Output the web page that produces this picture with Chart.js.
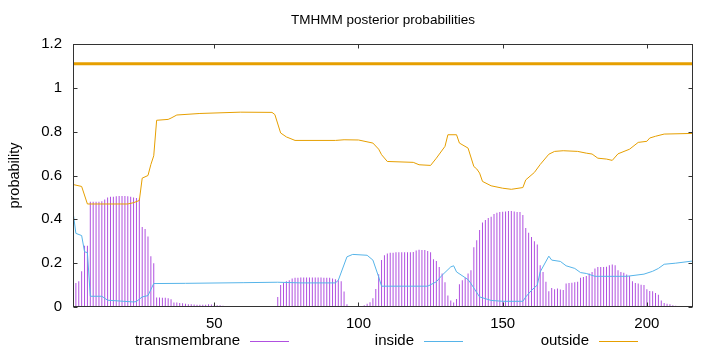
<!DOCTYPE html>
<html>
<head>
<meta charset="utf-8">
<script src="https://cdn.jsdelivr.net/npm/chart.js@4.4.1/dist/chart.umd.min.js"></script>
<style>
  html, body { margin: 0; padding: 0; background: #fff; }
</style>
</head>
<body>
<canvas id="tmhmm-chart" width="720" height="352"></canvas>
<script>
// TMHMM posterior probabilities, one value per residue (1..216)
const seqLength = 216
const residues = Array.from({length: seqLength}, (_, i) => i + 1)

const tmProb = [
  0.006, 0.11, 0.118, 0.163, 0.28, 0.28, 0.48, 0.48, 0.48, 0.48,
  0.483, 0.49, 0.50, 0.503, 0.503, 0.505, 0.507, 0.507, 0.507, 0.505,
  0.503, 0.50, 0.497, 0.495, 0.365, 0.356, 0.322, 0.232, 0.20, 0.043,
  0.043, 0.042, 0.042, 0.04, 0.035, 0.02, 0.02, 0.018, 0.017, 0.015,
  0.013, 0.012, 0.011, 0.01, 0.01, 0.01, 0.01, 0.012, 0.011, 0.01,
  0.008, 0.008, 0.006, 0.005, 0.005, 0.004, 0.004, 0.003, 0.003, 0.003,
  0.002, 0.002, 0.002, 0.002, 0.002, 0.002, 0.002, 0.002, 0.002, 0.003,
  0.005, 0.046, 0.10, 0.11, 0.118, 0.122, 0.13, 0.133, 0.134, 0.135,
  0.135, 0.135, 0.135, 0.135, 0.135, 0.135, 0.135, 0.134, 0.134, 0.133,
  0.13, 0.127, 0.122, 0.118, 0.071, 0.013, 0.002, 0.001, 0.002, 0.01,
  0.004, 0.008, 0.015, 0.022, 0.04, 0.082, 0.15, 0.215, 0.236, 0.244,
  0.247, 0.247, 0.25, 0.25, 0.25, 0.25, 0.25, 0.25, 0.251, 0.258,
  0.261, 0.26, 0.26, 0.256, 0.25, 0.218, 0.21, 0.183, 0.153, 0.113,
  0.052, 0.03, 0.021, 0.037, 0.104, 0.122, 0.134, 0.153, 0.168, 0.273,
  0.304, 0.351, 0.386, 0.397, 0.406, 0.412, 0.424, 0.43, 0.434, 0.435,
  0.436, 0.438, 0.438, 0.436, 0.434, 0.433, 0.42, 0.36, 0.339, 0.319,
  0.30, 0.285, 0.19, 0.16, 0.115, 0.072, 0.087, 0.081, 0.084, 0.08,
  0.078, 0.107, 0.11, 0.111, 0.113, 0.115, 0.134, 0.137, 0.142, 0.153,
  0.16, 0.176, 0.183, 0.183, 0.183, 0.184, 0.19, 0.194, 0.19, 0.168,
  0.16, 0.156, 0.148, 0.142, 0.118, 0.11, 0.107, 0.102, 0.10, 0.081,
  0.073, 0.072, 0.064, 0.056, 0.03, 0.018, 0.015, 0.012, 0.008, 0.006,
  0.004, 0.003, 0.002, 0.002, 0.001, 0.001
]

const insidePos = [1, 2, 4, 5, 6, 7, 11, 13, 22, 23, 25, 27, 29, 40, 60, 72, 80, 92, 93, 96, 98, 103, 105, 107, 108, 124, 127, 129, 132, 133, 134, 138, 139, 142, 146, 150, 157, 158, 160, 162, 163, 166, 167, 170, 172, 175, 177, 179, 182, 193, 199, 202, 204, 206, 210, 216]
const insideVal = [0.435, 0.336, 0.326, 0.252, 0.248, 0.049, 0.049, 0.031, 0.023, 0.025, 0.046, 0.052, 0.107, 0.108, 0.111, 0.113, 0.11, 0.11, 0.122, 0.229, 0.24, 0.236, 0.214, 0.137, 0.095, 0.095, 0.115, 0.145, 0.183, 0.188, 0.16, 0.125, 0.107, 0.046, 0.03, 0.026, 0.026, 0.046, 0.076, 0.1, 0.16, 0.232, 0.214, 0.208, 0.188, 0.176, 0.157, 0.153, 0.14, 0.14, 0.15, 0.163, 0.176, 0.195, 0.2, 0.21]

const outsidePos = [1, 4, 6, 20, 22, 24, 25, 27, 28, 29, 30, 34, 35, 37, 45, 59, 70, 71, 73, 75, 78, 92, 95, 100, 105, 107, 108, 110, 119, 121, 125, 127, 130, 131, 134, 135, 138, 140, 141, 142, 143, 146, 150, 153, 157, 158, 161, 163, 166, 168, 171, 176, 179, 181, 183, 186, 188, 190, 194, 197, 200, 201, 203, 206, 216]
const outsideVal = [0.559, 0.55, 0.47, 0.47, 0.476, 0.486, 0.588, 0.6, 0.65, 0.69, 0.852, 0.856, 0.862, 0.876, 0.883, 0.889, 0.888, 0.878, 0.794, 0.776, 0.76, 0.76, 0.763, 0.762, 0.748, 0.72, 0.695, 0.664, 0.66, 0.649, 0.646, 0.679, 0.733, 0.786, 0.786, 0.748, 0.725, 0.641, 0.63, 0.611, 0.573, 0.553, 0.542, 0.537, 0.545, 0.58, 0.614, 0.65, 0.697, 0.71, 0.713, 0.71, 0.702, 0.698, 0.679, 0.675, 0.669, 0.699, 0.72, 0.751, 0.756, 0.771, 0.779, 0.789, 0.792]

// predicted topology drawn on top of the plot
const topoFrom = [1]
const topoTo = [216]
const topoLevel = 1.11

const xTicks = [50, 100, 150, 200]
const yTicks = [0, 0.2, 0.4, 0.6, 0.8, 1, 1.2]

const purple = 'rgb(176, 80, 224)'
const blue = '#56b4e9'
const orange = '#e69f00'
const fontFamily = '"Liberation Sans", Arial, sans-serif'

const frame = {
  id: 'frame',
  afterDraw(chart) {
    const {ctx, chartArea: a, scales} = chart
    ctx.save()
    ctx.strokeStyle = '#333'
    ctx.lineWidth = 1
    const l = Math.round(a.left) + 0.5, r = Math.round(a.right) - 0.5
    const t = Math.round(a.top) + 0.5, b = Math.round(a.bottom) - 0.5
    ctx.strokeRect(l, t, r - l, b - t)
    ctx.beginPath()
    xTicks.forEach(v => {
      const px = Math.round(scales.x.getPixelForValue(v)) + 0.5
      ctx.moveTo(px, b); ctx.lineTo(px, b - 4)
      ctx.moveTo(px, t); ctx.lineTo(px, t + 4)
    })
    yTicks.forEach(v => {
      const py = Math.round(scales.y.getPixelForValue(v)) + 0.5
      ctx.moveTo(l, py); ctx.lineTo(l + 4, py)
      ctx.moveTo(r, py); ctx.lineTo(r - 4, py)
    })
    ctx.stroke()

    ctx.fillStyle = '#000'
    ctx.font = '13.5px ' + fontFamily
    ctx.textBaseline = 'middle'
    ctx.textAlign = 'center'
    ctx.fillText('TMHMM posterior probabilities', (a.left + a.right) / 2, 20)

    // key below the plot: text, then line sample
    const key = [
      {label: 'transmembrane', color: purple, x: 240},
      {label: 'inside', color: blue, x: 414},
      {label: 'outside', color: orange, x: 589}
    ]
    ctx.font = '15px ' + fontFamily
    ctx.textAlign = 'right'
    key.forEach(k => {
      ctx.fillStyle = '#000'
      ctx.fillText(k.label, k.x, 341)
      ctx.strokeStyle = k.color
      ctx.beginPath()
      ctx.moveTo(k.x + 10, 341.5)
      ctx.lineTo(k.x + 49, 341.5)
      ctx.stroke()
    })
    ctx.restore()
  }
}

const ctx = document.getElementById('tmhmm-chart').getContext('2d')
const chart = new Chart(ctx, {
  type: 'bar',
  data: {
    datasets: [
      {
        type: 'line',
        label: 'topology',
        data: topoFrom.flatMap((f, i) => [{x: f, y: topoLevel}, {x: topoTo[i], y: topoLevel}]),
        borderColor: orange,
        borderWidth: 3,
        pointRadius: 0,
        order: 0
      },
      {
        type: 'line',
        label: 'outside',
        data: outsidePos.map((p, i) => ({x: p, y: outsideVal[i]})),
        borderColor: orange,
        borderWidth: 1,
        pointRadius: 0,
        tension: 0,
        order: 1
      },
      {
        type: 'line',
        label: 'inside',
        data: insidePos.map((p, i) => ({x: p, y: insideVal[i]})),
        borderColor: blue,
        borderWidth: 1,
        pointRadius: 0,
        tension: 0,
        order: 2
      },
      {
        type: 'bar',
        label: 'transmembrane',
        data: residues.map((r, i) => ({x: r, y: tmProb[i]})),
        backgroundColor: purple,
        barThickness: 1,
        inflateAmount: 0,
        order: 3
      }
    ]
  },
  options: {
    responsive: false,
    animation: false,
    events: [],
    devicePixelRatio: 1,
    layout: {padding: {top: 44, right: 27, left: 0, bottom: 0}},
    plugins: {
      legend: {display: false},
      title: {display: false},
      tooltip: {enabled: false}
    },
    scales: {
      x: {
        type: 'linear',
        min: 1,
        max: seqLength,
        offset: false,
        grid: {display: false, drawTicks: false},
        border: {display: false},
        afterBuildTicks: s => { s.ticks = xTicks.map(v => ({value: v})) },
        afterFit: s => { s.height = 45 },
        ticks: {color: '#000', padding: 8, maxRotation: 0, font: {family: fontFamily, size: 15}}
      },
      y: {
        min: 0,
        max: 1.2,
        grid: {display: false, drawTicks: false},
        border: {display: false},
        afterBuildTicks: s => { s.ticks = yTicks.map(v => ({value: v})) },
        afterFit: s => { s.width = 73 },
        ticks: {
          color: '#000',
          padding: 11,
          font: {family: fontFamily, size: 15},
          callback: v => String(Math.round(v * 10) / 10)
        },
        title: {
          display: true,
          text: 'probability',
          color: '#000',
          padding: {top: 6},
          font: {family: fontFamily, size: 14.5}
        }
      }
    }
  },
  plugins: [frame]
})
</script>
</body>
</html>
